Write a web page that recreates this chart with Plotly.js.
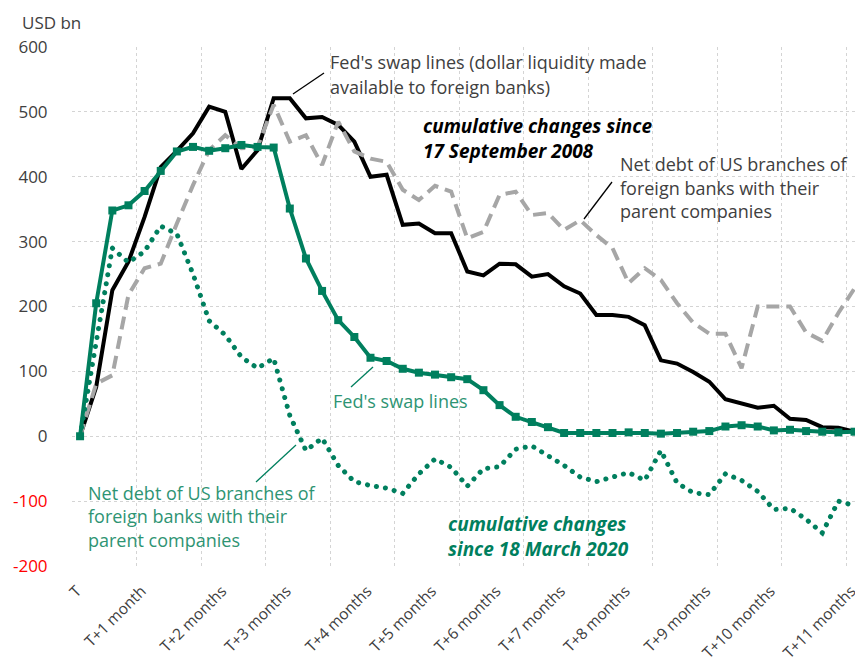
<!DOCTYPE html>
<html>
<head>
<meta charset="utf-8">
<script src="https://cdn.plot.ly/plotly-3.0.1.min.js"></script>
<style>html,body{margin:0;padding:0;background:#fff;}#chart{width:855px;height:662px;}</style>
</head>
<body>
<div id="chart"></div>
<script>
// weekly observations, index 0 = T
const weeks = Array.from({length: 49}, (_, i) => i);

// 2008: Fed's swap lines (cumulative change since 17 Sep 2008, USD bn)
const swap2008 = [0, 76, 225, 269, 338, 415, 440, 467, 508, 500, 412, 441, 521, 521, 490, 492, 480, 454, 400, 403,
  326, 328, 313, 313, 254, 248, 266, 265, 246, 250, 231, 220, 187, 187, 184, 171, 117, 112, 99, 84,
  57, 50, 44, 47, 27, 25, 14, 13, 7];

// 2008: net debt of US branches of foreign banks with parent companies
const netDebt2008 = [0, 81, 94, 218, 259, 266, 328, 387, 441, 464, 444, 446, 511, 454, 464, 418, 485, 439, 428, 423,
  380, 364, 386, 377, 305, 315, 372, 377, 341, 344, 318, 333, 310, 290, 236, 259, 241, 205, 175, 158,
  158, 105, 200, 200, 200, 160, 147, 190, 228];

// 2020: Fed's swap lines (cumulative change since 18 Mar 2020)
const swap2020 = [0, 205, 348, 356, 378, 409, 439, 446, 440, 444, 449, 446, 445, 351, 274, 224, 179, 153, 121, 116,
  104, 98, 95, 91, 88, 71, 48, 30, 22, 14, 5, 5, 5, 5, 6, 5, 4, 5, 7, 8,
  15, 17, 15, 9, 10, 8, 7, 6, 7];

// 2020: net debt of US branches of foreign banks with parent companies
const netDebt2020 = [0, 150, 290, 268, 285, 324, 312, 250, 178, 156, 122, 105, 120, 32, -22, -3, -45, -70, -76, -80,
  -88, -58, -35, -48, -77, -50, -47, -20, -15, -30, -45, -63, -70, -63, -56, -68, -22, -72, -87, -90,
  -58, -68, -85, -113, -111, -128, -149, -100, -107];

// x tick labels (positions on the weekly axis where each month label sits)
const monthTickPos = [-0.2, 3.8, 8.8, 12.8, 17.8, 21.8, 25.8, 29.8, 33.8, 38.8, 42.8, 47.8];
const monthTickLabels = ['T', 'T+1 month', 'T+2 months', 'T+3 months', 'T+4 months', 'T+5 months',
  'T+6 months', 'T+7 months', 'T+8 months', 'T+9 months', 'T+10 months', 'T+11 months'];

const yTickVals = [-200, -100, 0, 100, 200, 300, 400, 500, 600];

const GREEN = '#007F5E';
const FONT = 'Open Sans, Noto Sans, sans-serif';

const L = 72, R = 855, T = 47, B = 566;
const px = x => (x - L) / (R - L);
const py = y => (B - y) / (B - T);

const yTickText = yTickVals.map(v => v < 0 ? '<span style="color:#ff0000">' + v + '</span>' : String(v));

const traces = [
  {x: weeks, y: swap2008, type: 'scatter', mode: 'lines', line: {color: '#000000', width: 4}, hoverinfo: 'skip'},
  {x: weeks, y: netDebt2008, type: 'scatter', mode: 'lines', line: {color: '#a6a6a6', width: 4, dash: '13px,7px'}, hoverinfo: 'skip'},
  {x: weeks, y: netDebt2020, type: 'scatter', mode: 'lines', line: {color: GREEN, width: 5, dash: '1px,8px'}, hoverinfo: 'skip'},
  {x: weeks, y: swap2020, type: 'scatter', mode: 'lines+markers', line: {color: GREEN, width: 4},
   marker: {symbol: 'square', size: 8, color: GREEN}, hoverinfo: 'skip'},
  {x: [0], y: [0], xaxis: 'x2', type: 'scatter', mode: 'markers', marker: {opacity: 0}, hoverinfo: 'skip', showlegend: false}
];

const gridVals = [];
for (let g = -0.5; g <= 48; g += 4) gridVals.push(g);

const ann = (x, y, text, color, size, opts) => Object.assign({
  xref: 'paper', yref: 'paper', x: px(x), y: py(y), text: text, showarrow: false,
  xanchor: 'left', yanchor: 'middle', align: 'left',
  font: {family: FONT, size: size, color: color}
}, opts || {});

const line = (x0, y0, x1, y1, color) => ({
  type: 'line', xref: 'paper', yref: 'paper', x0: px(x0), y0: py(y0), x1: px(x1), y1: py(y1),
  line: {color: color, width: 1.3}
});

const GREY_TXT = '#404040';
const GREEN_TXT = '#2e9473';

const layout = {
  width: 855, height: 662,
  margin: {l: L, r: 855 - R, t: T, b: 662 - B, pad: 0},
  paper_bgcolor: '#ffffff', plot_bgcolor: '#ffffff',
  showlegend: false,
  font: {family: FONT, size: 17, color: GREY_TXT},
  xaxis: {
    range: [-0.5, 48.03], tickmode: 'array', tickvals: monthTickPos, ticktext: monthTickLabels,
    tickangle: -45, showgrid: false, zeroline: false, showline: false,
    ticks: 'outside', ticklen: 9, tickcolor: 'rgba(0,0,0,0)',
    ticklabeloverflow: 'allow',
    tickfont: {family: FONT, size: 15.5, color: GREY_TXT}
  },
  xaxis2: {
    overlaying: 'x', range: [-0.5, 48.03], tickmode: 'array', tickvals: gridVals,
    showticklabels: false, showgrid: true, gridcolor: '#d4d4d4', griddash: 'dot', gridwidth: 1,
    zeroline: false, showline: false, ticks: ''
  },
  yaxis: {
    range: [-200, 600], tickmode: 'array', tickvals: yTickVals, ticktext: yTickText,
    showgrid: true, gridcolor: '#d4d4d4', griddash: 'dot', gridwidth: 1,
    zeroline: false, showline: false,
    ticks: 'outside', ticklen: 20, tickcolor: 'rgba(0,0,0,0)',
    tickfont: {family: FONT, size: 17, color: GREY_TXT}
  },
  annotations: [
    ann(20, 22, 'USD bn', GREY_TXT, 17),
    ann(328, 62, "Fed's swap lines (dollar liquidity made", GREY_TXT, 18),
    ann(328, 87, 'available to foreign banks)', GREY_TXT, 18),
    ann(421, 138, '<b><i>cumulative changes since<br>17 September 2008</i></b>', '#000000', 19),
    ann(618, 164, 'Net debt of US branches of', GREY_TXT, 18),
    ann(618, 188, 'foreign banks with their', GREY_TXT, 18),
    ann(618, 211, 'parent companies', GREY_TXT, 18),
    ann(331, 401, "Fed's swap lines", GREEN_TXT, 18),
    ann(86, 493, 'Net debt of US branches of', GREEN_TXT, 18),
    ann(86, 516, 'foreign banks with their', GREEN_TXT, 18),
    ann(86, 540, 'parent companies', GREEN_TXT, 18),
    ann(446, 536, '<b><i>cumulative changes<br>since 18 March 2020</i></b>', GREEN, 19)
  ],
  shapes: [
    line(324, 73, 293, 94, '#000000'),
    line(612, 182, 584, 219, '#000000'),
    line(373, 367, 351, 387, GREEN),
    line(296, 445, 256, 482, GREEN)
  ]
};

Plotly.newPlot('chart', traces, layout, {displayModeBar: false, staticPlot: true}).then(gd => {
  // round dots for the dotted series
  const tr = gd.querySelectorAll('.scatterlayer .trace');
  if (tr[2]) {
    const p = tr[2].querySelector('path.js-line');
    if (p) { p.style.strokeLinecap = 'round'; p.style.strokeDasharray = '0.1px,9px'; }
  }
});
</script>
</body>
</html>
